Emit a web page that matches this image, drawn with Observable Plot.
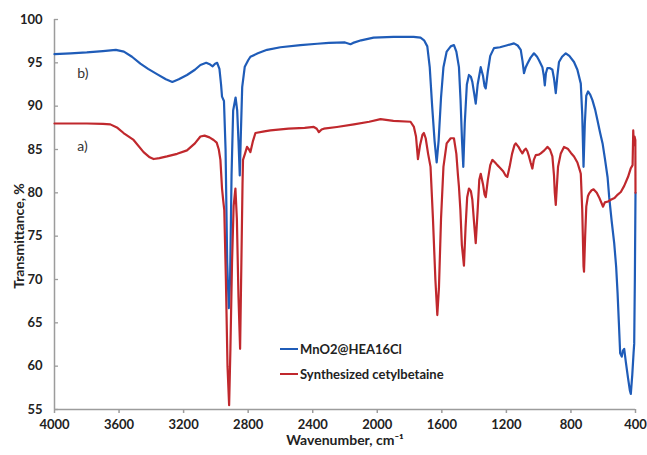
<!DOCTYPE html>
<html><head><meta charset="utf-8">
<script src="https://cdn.jsdelivr.net/npm/d3@7"></script>
<script src="https://cdn.jsdelivr.net/npm/@observablehq/plot@0.6"></script>
<style>
body{margin:0;background:#fff;}
#wrap{position:relative;width:647px;height:455px;font-family:Lato,"Open Sans",sans-serif;}
.lg{position:absolute;left:280px;height:16px;line-height:16px;font-weight:bold;font-size:13px;color:#222;display:flex;align-items:center;white-space:nowrap;}
.lg .sw{display:inline-block;width:18px;height:2.2px;margin-right:2px;}
.yt{position:absolute;left:19px;top:236px;width:200px;height:18px;line-height:18px;margin-left:-100px;margin-top:-9px;text-align:center;transform:rotate(-90deg);font-weight:bold;font-size:14px;color:#222;white-space:nowrap;}
</style></head>
<body><div id="wrap"></div>
<script>
const seriesNames = ["MnO2@HEA16Cl", "Synthesized cetylbetaine"];
const seriesColors = ["#1f5cb8", "#c0282d"];
const xTicks = [4000, 3600, 3200, 2800, 2400, 2000, 1600, 1200, 800, 400];
const yTicks = [55, 60, 65, 70, 75, 80, 85, 90, 95, 100];
const yTitle = "Transmittance, %";
const xTitle = "Wavenumber, cm\u207B\u00B9";
const curveLabels = [{w: 3859, t: 93.8, text: "b)"}, {w: 3859, t: 85.3, text: "a)"}];

const blueWave = [4000,3900,3800,3700,3620,3570,3520,3468,3420,3365,3310,3270,3230,3179,3130,3096,3060,3035,3020,3005,2992,2978,2968,2962,2950,2940,2930,2920,2912,2903,2893,2878,2868,2860,2852,2845,2837,2821,2800,2786,2740,2683,2600,2476,2372,2300,2200,2166,2150,2100,2023,1900,1775,1732,1710,1690,1675,1660,1645,1632,1620,1605,1590,1570,1545,1525,1510,1494,1484,1475,1467,1458,1445,1432,1420,1411,1400,1390,1378,1359,1345,1335,1328,1315,1300,1277,1240,1200,1153,1130,1111,1100,1091,1080,1070,1050,1029,1010,998,977,968,962,955,946,930,915,905,894,884,874,855,832,810,781,760,739,730,722,714,705,694,680,667,650,636,620,604,590,573,563,548,532,520,511,503,495,485,478,470,460,446,435,429,420,412,408,404,400];
const blueT = [96.0,96.1,96.2,96.35,96.5,96.3,95.7,94.9,94.3,93.7,93.1,92.8,93.1,93.6,94.2,94.75,95.0,94.8,94.6,94.9,95.0,94.3,92.5,91.1,90.6,85,72,66.7,70,82,89.5,91.0,89.5,86,82,87,92.2,94.55,95.3,95.7,96.1,96.5,96.8,97.05,97.2,97.3,97.35,97.15,97.3,97.6,97.9,98.0,98.0,97.9,97.6,96.9,94.5,90,86,83.5,86,91,94.5,96.3,96.9,97.05,96.3,94.5,90.7,86,83.0,88,92.5,93.6,93.4,92.8,91.5,90.3,92.5,94.5,93.5,92.3,92.05,94,95.8,96.7,96.8,97.0,97.25,97.0,96.5,95.2,93.8,94.5,94.9,95.6,96.1,95.7,95.3,94.5,93.5,92.4,93.8,94.4,94.4,94.2,93.2,91.5,93.5,95.1,95.7,96.1,95.8,95.1,94.2,92.6,89,83.0,88,91.2,91.7,91.3,90.7,89.6,88.4,87.0,85.7,84,81.8,79.5,76.8,74.2,71.5,68.4,65,61.5,61.1,61.8,62.0,60.5,58.6,57.2,56.8,59,61.5,62.6,70,80];

const redWave = [4000,3900,3800,3700,3654,3610,3572,3510,3448,3410,3386,3350,3303,3240,3179,3130,3096,3070,3040,3014,2995,2982,2972,2962,2955,2948,2938,2928,2918,2910,2900,2890,2879,2870,2860,2850,2842,2835,2832,2820,2807,2795,2786,2770,2755,2700,2662,2550,2450,2393,2375,2362,2345,2331,2250,2145,2050,1980,1900,1794,1773,1760,1748,1735,1720,1711,1700,1685,1670,1655,1640,1628,1618,1605,1590,1570,1545,1525,1510,1500,1494,1485,1476,1463,1453,1443,1432,1420,1411,1400,1390,1378,1368,1359,1345,1335,1328,1315,1300,1287,1270,1256,1240,1220,1205,1194,1180,1165,1150,1142,1125,1110,1101,1090,1080,1070,1060,1050,1039,1030,1018,1000,987,965,946,930,915,905,900,894,888,880,863,843,820,800,781,760,745,739,730,722,719,712,705,695,688,672,660,640,626,610,601,590,570,553,530,510,491,470,446,430,418,414,410,406,401,400];
const redT = [88.0,88.0,88.0,87.95,87.9,87.5,86.9,86.1,84.7,84.1,83.9,84.0,84.2,84.5,84.9,85.7,86.5,86.6,86.4,86.1,85.8,85.0,83.8,80.5,79.2,78,70,60,55.5,62,72,78.5,80.5,77,68,62.0,72,81,83.8,84.5,85.3,85.0,84.7,86.0,86.9,87.1,87.2,87.4,87.5,87.6,87.4,87.0,87.3,87.4,87.6,87.9,88.2,88.5,88.3,88.2,87.6,86.5,83.9,85.5,86.7,86.9,86.3,84.5,83.0,77,70,65.9,69,77,83,85.7,86.3,86.3,84.5,82.0,80.7,78,74,71.6,76,79.5,80.5,80.2,79.2,76.5,74.2,78,81.5,82.2,81.0,79.8,79.5,81.5,83.2,83.8,83.5,83.2,82.9,82.5,82.0,81.85,83,84.5,85.5,85.7,85.3,84.8,84.55,84.9,85.1,84.8,84.2,83.5,82.8,83.8,84.35,84.4,84.55,84.9,85.3,85.0,84.2,82,80,78.6,80.5,83,84.55,85.3,85.1,84.6,84.2,83.5,82.6,82.2,78,71.5,70.9,75,78.4,79.6,79.9,80.3,80.4,80.0,79.5,78.8,78.4,78.9,79.0,79.2,79.4,79.8,80.1,80.8,81.85,82.8,83.2,87.2,85.5,86.5,86.1,80];

const blue = blueWave.map((w, i) => ({w, t: blueT[i]}));
const red = redWave.map((w, i) => ({w, t: redT[i]}));

const axisGray = "#9c9c9c";
const chart = Plot.plot({
  width: 647, height: 455,
  marginLeft: 54, marginRight: 12, marginTop: 19, marginBottom: 46,
  style: {fontFamily: "Lato, 'Open Sans', sans-serif", background: "#fff"},
  x: {domain: [4000, 400]},
  y: {domain: [55, 100]},
  marks: [
    Plot.axisX({ticks: xTicks, tickSize: 4, tickPadding: 6, stroke: axisGray, strokeWidth: 1.5, fontSize: 13, fontWeight: "bold", fill: "#222", label: null, tickFormat: d => String(d)}),
    Plot.axisY({ticks: yTicks, tickSize: 0, tickPadding: 12, fontSize: 13, fontWeight: "bold", fill: "#222", label: null}),
    Plot.ruleY(yTicks, {x1: 4000, x2: 3975, stroke: axisGray, strokeWidth: 1.3}),
    Plot.ruleY([55], {stroke: axisGray, strokeWidth: 1.5}),
    Plot.ruleX([4000], {stroke: axisGray, strokeWidth: 1.5}),
    Plot.line(blue, {x: "w", y: "t", stroke: seriesColors[0], strokeWidth: 2.2}),
    Plot.line(red, {x: "w", y: "t", stroke: seriesColors[1], strokeWidth: 2.2}),
    Plot.text(curveLabels, {x: "w", y: "t", text: "text", fontSize: 14, fill: "#333", textAnchor: "start"}),
    Plot.text([xTitle], {frameAnchor: "bottom", dy: 35, fontSize: 14, fontWeight: "bold", fill: "#222"})
  ]
});
const wrap = document.getElementById("wrap");
wrap.appendChild(chart);
const yt = document.createElement("div");
yt.className = "yt";
yt.textContent = yTitle;
wrap.appendChild(yt);
const tops = [341, 366];
seriesNames.forEach((n, i) => {
  const d = document.createElement("div");
  d.className = "lg";
  d.style.top = tops[i] + "px";
  const sw = document.createElement("span");
  sw.className = "sw";
  sw.style.background = seriesColors[i];
  d.appendChild(sw);
  d.appendChild(document.createTextNode(n));
  wrap.appendChild(d);
});
</script></body></html>
